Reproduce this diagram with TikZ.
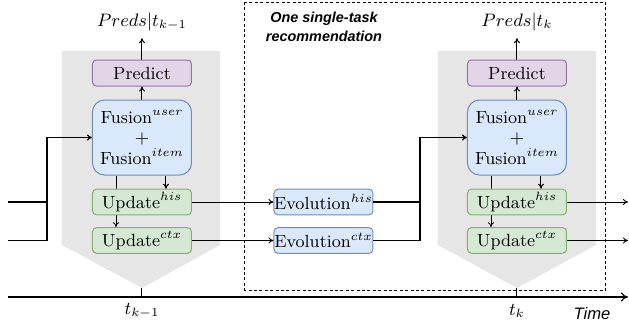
\documentclass[tikz,border=0pt]{standalone}
\usepackage{amsmath}
\usepackage{fontspec}
\newfontfamily\arialfont{Liberation Sans}
\usepackage{tikz}
\usetikzlibrary{arrows.meta,backgrounds}
\definecolor{greyband}{HTML}{E6E6E6}
\definecolor{purpfill}{HTML}{E1D5E7}
\definecolor{purpline}{HTML}{9673A6}
\definecolor{bluefill}{HTML}{DAE8FC}
\definecolor{blueline}{HTML}{6C8EBF}
\definecolor{greenfill}{HTML}{D5E8D4}
\definecolor{greenline}{HTML}{82B366}
\tikzset{every picture/.style={line width=0.5pt},
  boxtext/.style={font=\fontsize{8.8}{9.4}\selectfont, inner sep=0pt, minimum width=49.5pt},
  predbox/.style={boxtext, draw=purpline, fill=purpfill, rounded corners=2pt, minimum height=13pt},
  fusbox/.style={boxtext, draw=blueline, fill=bluefill, rounded corners=6pt, minimum height=37.5pt, align=center},
  updbox/.style={boxtext, draw=greenline, fill=greenfill, rounded corners=2pt, minimum height=12.8pt},
  evobox/.style={boxtext, draw=blueline, fill=bluefill, rounded corners=2pt, minimum height=12.8pt},
  arr/.style={-{To[length=2.5pt,width=3pt]}},
  joinline/.style={line width=0.65pt},
}

\begin{document}
\begin{tikzpicture}[x=0.5pt,y=0.5pt,yscale=-1,xscale=1]
		\useasboundingbox (0,0) rectangle (629,327);
		
		%Shape: dashed frame
		\draw[dash pattern=on 1.5pt off 1.2pt] (245,2) rectangle (606,290) ;
		
		% Text Node
		\node[font=\arialfont\bfseries\itshape\fontsize{7.2}{9.6}\selectfont, align=center] (title) at (324,27) {One single-task\\recommendation};
		
		%Left step
		\node[predbox] (predL) at (142,73) {Predict};
		\node[fusbox] (fusL) at (142,137.5) {Fusion$^{user}$\\[1pt]$+$\\[1pt]Fusion$^{item}$};
		\node[updbox] (updHisL) at (142,202) {Update$^{his}$};
		\node[updbox] (updCtxL) at (142,240.5) {Update$^{ctx}$};
		\node[font=\fontsize{8.8}{10}\selectfont] (predsL) at (142,22) {$Preds|t_{k-1}$};
		
		%Middle evolution
		\node[evobox] (evoHis) at (323.5,202) {Evolution$^{his}$};
		\node[evobox] (evoCtx) at (323.5,240.5) {Evolution$^{ctx}$};
		
		%Right step
		\node[predbox] (predR) at (517,73) {Predict};
		\node[fusbox] (fusR) at (517,137.5) {Fusion$^{user}$\\[1pt]$+$\\[1pt]Fusion$^{item}$};
		\node[updbox] (updHisR) at (517,202) {Update$^{his}$};
		\node[updbox] (updCtxR) at (517,240.5) {Update$^{ctx}$};
		\node[font=\fontsize{8.8}{10}\selectfont] (predsR) at (517,22) {$Preds|t_{k}$};
		
		%Free ends
		\coordinate (inHis) at (8,202);
		\coordinate (inCtx) at (8,240.5);
		\coordinate (joinL) at (47,137.5);
		\coordinate (joinR) at (420,137.5);
		\coordinate (outHis) at (628,202);
		\coordinate (outCtx) at (628,240.5);
		\coordinate (axisL) at (8,297);
		\coordinate (axisR) at (628,297);
		\coordinate (tipL) at (142,288);
		\coordinate (tipR) at (517,288);
		
		%Grey bands and the lines behind the update boxes
		\begin{scope}[on background layer]
		\fill[greyband] (62,51) -- (220,51) -- (220,245) -- (tipL) -- (62,245) -- cycle ;
		\fill[greyband] (438,51) -- (596,51) -- (596,245) -- (tipR) -- (438,245) -- cycle ;
		\draw[arr] ([xshift=-13pt]fusL.south) -- ([xshift=-13pt]updCtxL.north) ;
		\draw[arr] ([xshift=-13pt]fusR.south) -- ([xshift=-13pt]updCtxR.north) ;
		\end{scope}
		
		%Straight Lines
		\draw[arr] (predL) -- (predsL) ;
		\draw[arr] (fusL) -- (predL) ;
		\draw[arr] ([xshift=12pt]fusL.south) -- ([xshift=12pt]updHisL.north) ;
		\draw[arr] (predR) -- (predsR) ;
		\draw[arr] (fusR) -- (predR) ;
		\draw[arr] ([xshift=12pt]fusR.south) -- ([xshift=12pt]updHisR.north) ;
		
		\draw[joinline] (inHis) -| (joinL) ;
		\draw[joinline, arr] (inCtx) -| (joinL) -- (fusL) ;
		\draw[arr] (updHisL) -- (evoHis) ;
		\draw[arr] (updCtxL) -- (evoCtx) ;
		\draw[joinline] (evoHis) -| (joinR) ;
		\draw[joinline, arr] (evoCtx) -| (joinR) -- (fusR) ;
		\draw[arr] (updHisR) -- (outHis) ;
		\draw[arr] (updCtxR) -- (outCtx) ;
		
		%Time axis
		\draw[line width=0.6pt, -{To[length=3.5pt,width=4.5pt]}] (axisL) -- (axisR) ;
		\draw (tipL) -- (tipL |- axisL) ;
		\draw (tipR) -- (tipR |- axisL) ;
		
		% Text Node
		\node[font=\fontsize{8.8}{10}\selectfont] (tkL) at (142,311) {$t_{k-1}$};
		\node[font=\fontsize{8.8}{10}\selectfont] (tkR) at (517,311) {$t_{k}$};
		\node[font=\arialfont\itshape\fontsize{8.3}{10}\selectfont] (timeLbl) at (592,314) {Time};
		
\end{tikzpicture}
\end{document}
